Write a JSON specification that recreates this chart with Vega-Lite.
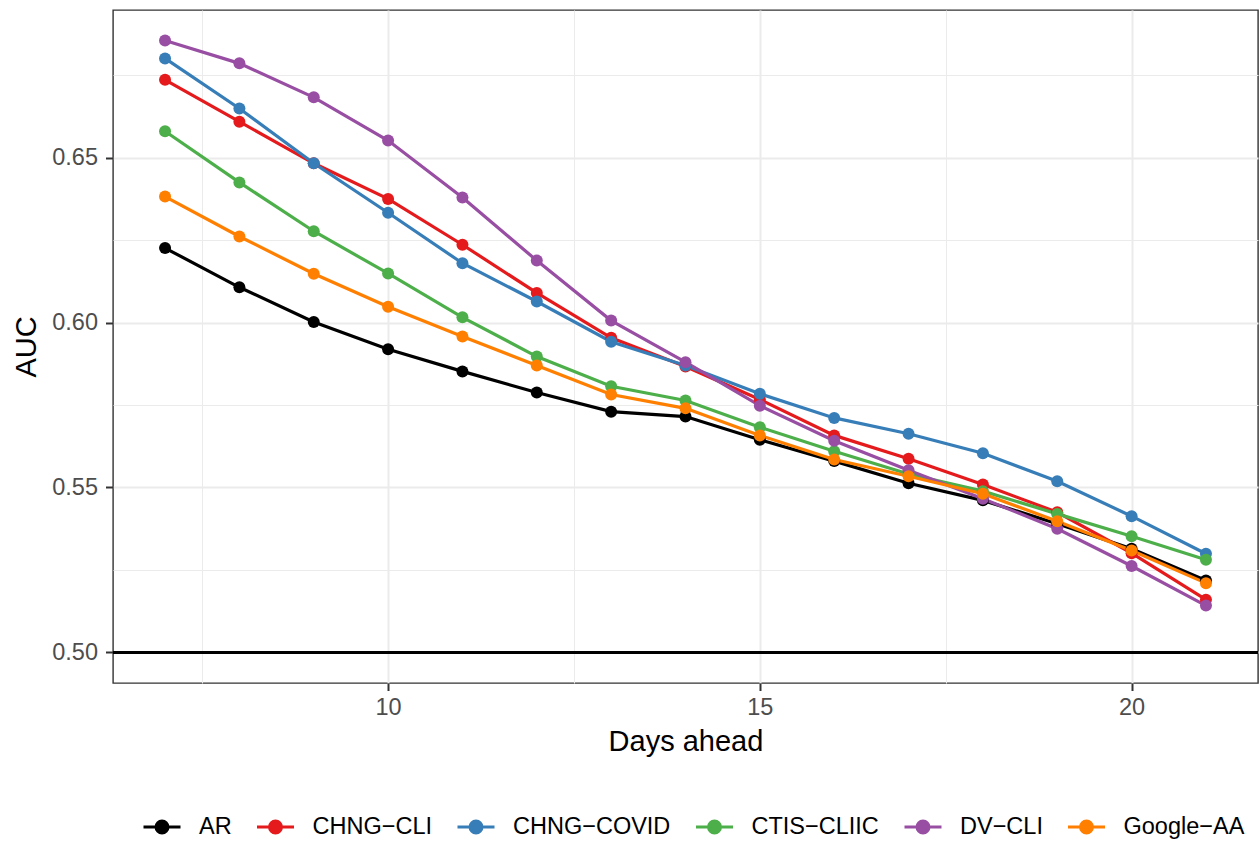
{
  "$schema": "https://vega.github.io/schema/vega-lite/v6.json",
  "width": 1145,
  "height": 673,
  "autosize": "none",
  "padding": {"left": 113, "top": 10, "right": 2, "bottom": 159},
  "background": "white",
  "config": {
    "font": "Liberation Sans",
    "view": {"stroke": "#333333", "strokeWidth": 1.4},
    "axis": {
      "domain": false,
      "gridColor": "#EBEBEB",
      "tickColor": "#333333",
      "tickWidth": 2,
      "tickSize": 7.5,
      "labelFont": "Liberation Sans",
      "labelFontSize": 23.5,
      "labelColor": "#4D4D4D",
      "titleFont": "Liberation Sans",
      "titleFontSize": 29,
      "titleFontWeight": "normal",
      "titleColor": "#000000"
    }
  },
  "data": {
    "values": [
      {"d": 7, "m": "AR", "auc": 0.6226}, {"d": 8, "m": "AR", "auc": 0.6107}, {"d": 9, "m": "AR", "auc": 0.6002}, {"d": 10, "m": "AR", "auc": 0.5919}, {"d": 11, "m": "AR", "auc": 0.5852}, {"d": 12, "m": "AR", "auc": 0.5788}, {"d": 13, "m": "AR", "auc": 0.5730}, {"d": 14, "m": "AR", "auc": 0.5715}, {"d": 15, "m": "AR", "auc": 0.5645}, {"d": 16, "m": "AR", "auc": 0.5580}, {"d": 17, "m": "AR", "auc": 0.5513}, {"d": 18, "m": "AR", "auc": 0.5461}, {"d": 19, "m": "AR", "auc": 0.5390}, {"d": 20, "m": "AR", "auc": 0.5314}, {"d": 21, "m": "AR", "auc": 0.5218},
      {"d": 7, "m": "CHNG−CLI", "auc": 0.6736}, {"d": 8, "m": "CHNG−CLI", "auc": 0.6609}, {"d": 9, "m": "CHNG−CLI", "auc": 0.6483}, {"d": 10, "m": "CHNG−CLI", "auc": 0.6375}, {"d": 11, "m": "CHNG−CLI", "auc": 0.6236}, {"d": 12, "m": "CHNG−CLI", "auc": 0.6090}, {"d": 13, "m": "CHNG−CLI", "auc": 0.5954}, {"d": 14, "m": "CHNG−CLI", "auc": 0.5867}, {"d": 15, "m": "CHNG−CLI", "auc": 0.5767}, {"d": 16, "m": "CHNG−CLI", "auc": 0.5658}, {"d": 17, "m": "CHNG−CLI", "auc": 0.5587}, {"d": 18, "m": "CHNG−CLI", "auc": 0.5509}, {"d": 19, "m": "CHNG−CLI", "auc": 0.5425}, {"d": 20, "m": "CHNG−CLI", "auc": 0.5301}, {"d": 21, "m": "CHNG−CLI", "auc": 0.5160},
      {"d": 7, "m": "CHNG−COVID", "auc": 0.6801}, {"d": 8, "m": "CHNG−COVID", "auc": 0.6649}, {"d": 9, "m": "CHNG−COVID", "auc": 0.6483}, {"d": 10, "m": "CHNG−COVID", "auc": 0.6333}, {"d": 11, "m": "CHNG−COVID", "auc": 0.6180}, {"d": 12, "m": "CHNG−COVID", "auc": 0.6064}, {"d": 13, "m": "CHNG−COVID", "auc": 0.5942}, {"d": 14, "m": "CHNG−COVID", "auc": 0.5870}, {"d": 15, "m": "CHNG−COVID", "auc": 0.5784}, {"d": 16, "m": "CHNG−COVID", "auc": 0.5711}, {"d": 17, "m": "CHNG−COVID", "auc": 0.5663}, {"d": 18, "m": "CHNG−COVID", "auc": 0.5604}, {"d": 19, "m": "CHNG−COVID", "auc": 0.5519}, {"d": 20, "m": "CHNG−COVID", "auc": 0.5413}, {"d": 21, "m": "CHNG−COVID", "auc": 0.5299},
      {"d": 7, "m": "CTIS−CLIIC", "auc": 0.6580}, {"d": 8, "m": "CTIS−CLIIC", "auc": 0.6425}, {"d": 9, "m": "CTIS−CLIIC", "auc": 0.6277}, {"d": 10, "m": "CTIS−CLIIC", "auc": 0.6149}, {"d": 11, "m": "CTIS−CLIIC", "auc": 0.6016}, {"d": 12, "m": "CTIS−CLIIC", "auc": 0.5897}, {"d": 13, "m": "CTIS−CLIIC", "auc": 0.5807}, {"d": 14, "m": "CTIS−CLIIC", "auc": 0.5764}, {"d": 15, "m": "CTIS−CLIIC", "auc": 0.5683}, {"d": 16, "m": "CTIS−CLIIC", "auc": 0.5610}, {"d": 17, "m": "CTIS−CLIIC", "auc": 0.5541}, {"d": 18, "m": "CTIS−CLIIC", "auc": 0.5489}, {"d": 19, "m": "CTIS−CLIIC", "auc": 0.5420}, {"d": 20, "m": "CTIS−CLIIC", "auc": 0.5352}, {"d": 21, "m": "CTIS−CLIIC", "auc": 0.5281},
      {"d": 7, "m": "DV−CLI", "auc": 0.6855}, {"d": 8, "m": "DV−CLI", "auc": 0.6786}, {"d": 9, "m": "DV−CLI", "auc": 0.6683}, {"d": 10, "m": "DV−CLI", "auc": 0.6552}, {"d": 11, "m": "DV−CLI", "auc": 0.6379}, {"d": 12, "m": "DV−CLI", "auc": 0.6188}, {"d": 13, "m": "DV−CLI", "auc": 0.6006}, {"d": 14, "m": "DV−CLI", "auc": 0.5880}, {"d": 15, "m": "DV−CLI", "auc": 0.5748}, {"d": 16, "m": "DV−CLI", "auc": 0.5642}, {"d": 17, "m": "DV−CLI", "auc": 0.5552}, {"d": 18, "m": "DV−CLI", "auc": 0.5466}, {"d": 19, "m": "DV−CLI", "auc": 0.5375}, {"d": 20, "m": "DV−CLI", "auc": 0.5262}, {"d": 21, "m": "DV−CLI", "auc": 0.5142},
      {"d": 7, "m": "Google−AA", "auc": 0.6382}, {"d": 8, "m": "Google−AA", "auc": 0.6261}, {"d": 9, "m": "Google−AA", "auc": 0.6148}, {"d": 10, "m": "Google−AA", "auc": 0.6048}, {"d": 11, "m": "Google−AA", "auc": 0.5958}, {"d": 12, "m": "Google−AA", "auc": 0.5870}, {"d": 13, "m": "Google−AA", "auc": 0.5782}, {"d": 14, "m": "Google−AA", "auc": 0.5740}, {"d": 15, "m": "Google−AA", "auc": 0.5658}, {"d": 16, "m": "Google−AA", "auc": 0.5585}, {"d": 17, "m": "Google−AA", "auc": 0.5534}, {"d": 18, "m": "Google−AA", "auc": 0.5481}, {"d": 19, "m": "Google−AA", "auc": 0.5398}, {"d": 20, "m": "Google−AA", "auc": 0.5309}, {"d": 21, "m": "Google−AA", "auc": 0.5210}
    ]
  },
  "encoding": {
    "x": {
      "field": "d",
      "type": "quantitative",
      "title": "Days ahead",
      "scale": {"domain": [6.3, 21.7], "nice": false, "zero": false},
      "axis": {
        "values": [7.5, 10, 12.5, 15, 17.5, 20],
        "labelExpr": "datum.value % 5 === 0 ? format(datum.value, 'd') : ''",
        "gridWidth": {"condition": {"test": "datum.value % 5 !== 0", "value": 1}, "value": 2},
        "tickOpacity": {"condition": {"test": "datum.value % 5 !== 0", "value": 0}, "value": 1},
        "labelPadding": 5,
        "titlePadding": 8
      }
    },
    "y": {
      "field": "auc",
      "type": "quantitative",
      "title": "AUC",
      "scale": {"domain": [0.490725, 0.694775], "nice": false, "zero": false},
      "axis": {
        "values": [0.5, 0.525, 0.55, 0.575, 0.6, 0.625, 0.65, 0.675],
        "labelExpr": "abs(datum.value * 20 - round(datum.value * 20)) < 0.01 ? format(datum.value, '.2f') : ''",
        "gridWidth": {"condition": {"test": "abs(datum.value * 20 - round(datum.value * 20)) > 0.01", "value": 1}, "value": 2},
        "tickOpacity": {"condition": {"test": "abs(datum.value * 20 - round(datum.value * 20)) > 0.01", "value": 0}, "value": 1},
        "labelPadding": 8,
        "titlePadding": 10
      }
    },
    "color": {
      "field": "m",
      "type": "nominal",
      "title": null,
      "scale": {
        "domain": ["AR", "CHNG−CLI", "CHNG−COVID", "CTIS−CLIIC", "DV−CLI", "Google−AA"],
        "range": ["#000000", "#E41A1C", "#377EB8", "#4DAF4A", "#984EA3", "#FF7F00"]
      },
      "legend": {
        "orient": "none",
        "direction": "horizontal",
        "legendX": 29,
        "legendY": 797,
        "padding": 0,
        "symbolType": "M-1,0L1,0M0.324,0A0.324,0.324,0,1,1,-0.324,0A0.324,0.324,0,1,1,0.324,0Z",
        "symbolSize": 1369,
        "symbolStrokeWidth": 3,
        "symbolOpacity": 1,
        "labelFont": "Liberation Sans",
        "labelFontSize": 23.5,
        "labelLimit": 400,
        "labelColor": "#000000",
        "labelOffset": 17,
        "columnPadding": 18.5,
        "encode": {
          "symbols": {
            "update": {
              "fill": {"scale": "color", "field": "value"},
              "stroke": {"scale": "color", "field": "value"},
              "opacity": {"value": 1}
            }
          }
        }
      }
    }
  },
  "layer": [
    {
      "mark": {"type": "rule", "color": "#000000", "strokeWidth": 2.4},
      "encoding": {"y": {"datum": 0.5}, "x": null, "color": null}
    },
    {
      "mark": {"type": "line", "strokeWidth": 3.2}
    },
    {
      "mark": {"type": "point", "filled": true, "size": 144, "opacity": 1}
    }
  ]
}
